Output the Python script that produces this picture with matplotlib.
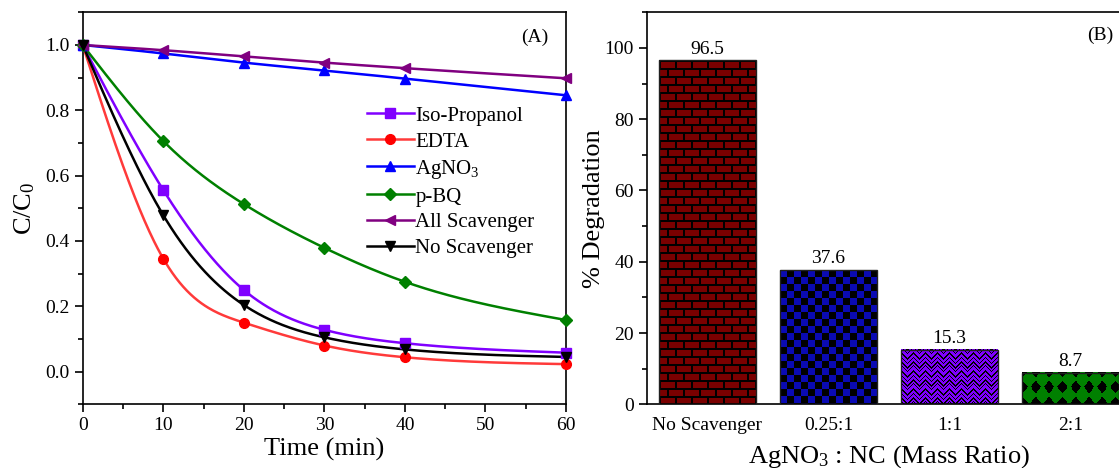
import numpy as np
import matplotlib
matplotlib.use("Agg")
import matplotlib.pyplot as plt
from matplotlib.ticker import MultipleLocator

plt.rcParams['font.family'] = ['Liberation Serif', 'DejaVu Serif']
plt.rcParams['mathtext.fontset'] = 'custom'
plt.rcParams['mathtext.rm'] = 'Liberation Serif'
plt.rcParams['mathtext.it'] = 'Liberation Serif:italic'
plt.rcParams['axes.linewidth'] = 1.2

# ---- Panel A: photocatalytic decay with scavengers ----
time_min = [0, 10, 20, 30, 40, 60]
iso_propanol = [1.0, 0.556, 0.250, 0.128, 0.087, 0.058]
edta = [1.0, 0.346, 0.150, 0.080, 0.044, 0.023]
agno3 = [1.0, 0.974, 0.946, 0.922, 0.897, 0.846]
p_bq = [1.0, 0.706, 0.513, 0.379, 0.275, 0.158]
all_scavenger = [1.0, 0.984, 0.965, 0.946, 0.929, 0.898]
no_scavenger = [1.0, 0.479, 0.204, 0.105, 0.068, 0.045]

# ---- Panel B: degradation vs AgNO3 : NC ratio ----
ratio_labels = ['No Scavenger', '0.25:1', '1:1', '2:1']
degradation = [96.5, 37.6, 15.3, 8.7]


def natural_spline(x, y, xs):
    x = np.asarray(x, float)
    y = np.asarray(y, float)
    n = len(x)
    h = np.diff(x)
    A = np.zeros((n, n))
    r = np.zeros(n)
    A[0, 0] = A[-1, -1] = 1.0
    for i in range(1, n - 1):
        A[i, i - 1] = h[i - 1]
        A[i, i] = 2 * (h[i - 1] + h[i])
        A[i, i + 1] = h[i]
        r[i] = 3 * ((y[i + 1] - y[i]) / h[i] - (y[i] - y[i - 1]) / h[i - 1])
    c = np.linalg.solve(A, r)
    b = (y[1:] - y[:-1]) / h - h * (2 * c[:-1] + c[1:]) / 3
    d = (c[1:] - c[:-1]) / (3 * h)
    idx = np.clip(np.searchsorted(x, xs, side='right') - 1, 0, n - 2)
    dx = xs - x[idx]
    return y[idx] + b[idx] * dx + c[idx] * dx ** 2 + d[idx] * dx ** 3


W, H = 1119, 468
fig = plt.figure(figsize=(W / 100, H / 100), dpi=100)

axA = fig.add_axes([82.7 / W, (H - 404.3) / H, 483.3 / W, 392.0 / H])
axB = fig.add_axes([647.0 / W, (H - 404.3) / H, 484.0 / W, 392.0 / H])

series = [
    ('Iso-Propanol', iso_propanol, '#8000FF', '#8000FF', 's', 6.5),
    ('EDTA', edta, '#FF3A3A', '#FF0000', 'o', 7),
    ('AgNO$_3$', agno3, '#0000FF', '#0000FF', '^', 7),
    ('p-BQ', p_bq, '#008000', '#008000', 'D', 6),
    ('All Scavenger', all_scavenger, '#800080', '#800080', '<', 7.5),
    ('No Scavenger', no_scavenger, '#000000', '#000000', 'v', 7.5),
]

t_fine = np.linspace(0, 60, 400)
handles = []
for name, vals, lc, mc, mk, ms in series:
    axA.plot(t_fine, natural_spline(time_min, vals, t_fine), color=lc, lw=1.8, zorder=3)
    axA.plot(time_min, vals, ls='none', marker=mk, ms=ms, color=mc, mec=mc, zorder=4, clip_on=False)
    h, = axA.plot([], [], color=lc, lw=1.8, marker=mk, ms=ms, mfc=mc, mec=mc, label=name)
    handles.append(h)

axA.set_xlim(0, 60)
axA.set_ylim(-0.1, 1.1)
axA.xaxis.set_major_locator(MultipleLocator(10))
axA.xaxis.set_minor_locator(MultipleLocator(5))
axA.yaxis.set_minor_locator(MultipleLocator(0.1))
axA.set_yticks([0.0, 0.2, 0.4, 0.6, 0.8, 1.0])
axA.set_yticklabels(['0.0', '0.2', '0.4', '0.6', '0.8', '1.0'])
axA.tick_params(which='major', direction='out', length=6, width=1.2, labelsize=14, top=False, right=False)
axA.tick_params(which='minor', direction='out', length=3.5, width=1.2, top=False, right=False)
axA.set_xlabel('Time (min)', fontsize=19)
axA.set_ylabel('C/C$_0$', fontsize=19)
axA.xaxis.set_label_coords(0.5, -0.085)
axA.yaxis.set_label_coords(-0.095, 0.5)
axA.text(0.936, 0.937, '(A)', transform=axA.transAxes, ha='center', va='center', fontsize=14)

leg = axA.legend(handles=handles, loc='upper left', bbox_to_anchor=(0.570, 0.782),
                 frameon=False, fontsize=15, handlelength=2.3, handletextpad=0.05,
                 labelspacing=0.3, borderaxespad=0)

# ---- bars with textured fills ----
x_pos = np.arange(len(degradation))
axB.set_xlim(-0.5, len(degradation) - 0.5)
axB.set_ylim(0, 110)

base_colors = ['#7A0000', '#0A0AB4', '#7F00FF', '#008000']
bars = axB.bar(x_pos, degradation, width=0.8, color=base_colors, edgecolor='none', zorder=2)


def hex_rgb(c):
    c = c.lstrip('#')
    return np.array([int(c[i:i + 2], 16) for i in (0, 2, 4)], float) / 255.0


def brick(xx, yy):
    row = yy // 8
    in_mortar_row = (yy % 8) < 2
    shift = np.where(row % 2 == 0, 0, 8)
    in_joint = ((xx + shift) % 16) < 2
    return ~(in_mortar_row | in_joint)


def checker(xx, yy):
    return ((xx // 7) + (yy // 7)) % 2 == 0


def weave(xx, yy):
    zig = np.abs((xx % 12) - 6)
    band = (yy + zig) % 9
    dots = ((xx + yy) % 2 == 0) & ((band == 4) | (band == 5))
    return ~((band < 2) | dots)


def drops(xx, yy):
    # green rounded cells with black diamonds where four cells meet
    px, py = 13.3, 15.0
    cx = (xx % px) - px / 2
    cy = ((yy + 1) % py) - py / 2
    diamond = (np.abs(np.abs(cx) - px / 2) / 5.0 + np.abs(np.abs(cy) - py / 2) / 6.0) <= 1.0
    return ~diamond


textures = [brick, checker, weave, drops]

fig.canvas.draw()
for bar, col, tex in zip(bars, base_colors, textures):
    bb = bar.get_window_extent()
    w = max(int(round(bb.width)), 1)
    h = max(int(round(bb.height)), 1)
    yy, xx = np.mgrid[0:h, 0:w]
    mask = tex(xx, yy)
    img = np.zeros((h, w, 3))
    img[mask] = hex_rgb(col)
    x0 = bar.get_x()
    axB.imshow(img, extent=(x0, x0 + bar.get_width(), 0, bar.get_height()),
               origin='upper', interpolation='nearest', aspect='auto', zorder=2.5,
               clip_path=bar, clip_on=True)

axB.bar(x_pos, degradation, width=0.8, fill=False, edgecolor='#202020', linewidth=1.0, zorder=3)
for xi, v in zip(x_pos, degradation):
    axB.text(xi, v + 0.8, f'{v}', ha='center', va='bottom', fontsize=14)

axB.set_xlim(-0.5, len(degradation) - 0.5)
axB.set_ylim(0, 110)
axB.set_xticks(x_pos)
axB.set_xticklabels(ratio_labels)
axB.yaxis.set_major_locator(MultipleLocator(20))
axB.yaxis.set_minor_locator(MultipleLocator(10))
axB.tick_params(axis='x', which='both', length=0, pad=9, labelsize=14)
axB.tick_params(axis='y', which='major', direction='out', length=6, width=1.2, labelsize=14, right=False)
axB.tick_params(axis='y', which='minor', direction='out', length=3.5, width=1.2, right=False)
axB.set_ylabel('% Degradation', fontsize=19)
axB.set_xlabel('AgNO$_3$ : NC (Mass Ratio)', fontsize=19)
axB.yaxis.set_label_coords(-0.087, 0.5)
axB.xaxis.set_label_coords(0.5, -0.098)
axB.text(0.936, 0.94, '(B)', transform=axB.transAxes, ha='center', va='center', fontsize=14)

fig.savefig('out.png', dpi=100)
